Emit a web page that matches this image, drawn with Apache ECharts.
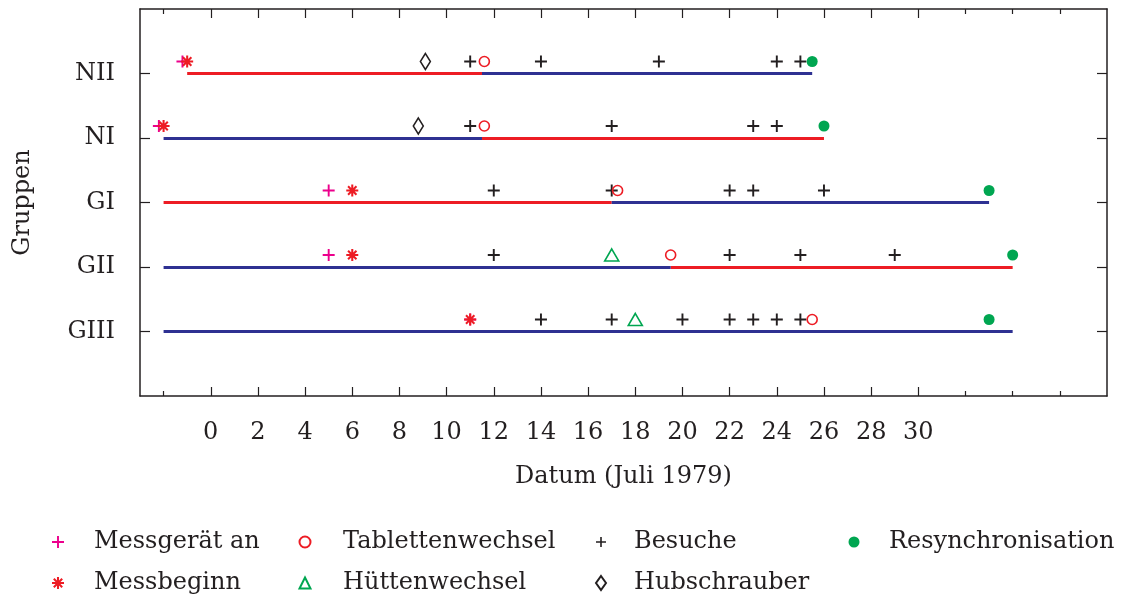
<!DOCTYPE html>
<html>
<head>
<meta charset="utf-8">
<script src="https://cdn.jsdelivr.net/npm/echarts@6/dist/echarts.min.js"></script>
<style>
html,body{margin:0;padding:0;background:#ffffff;}
#chart{width:1125px;height:595px;}
</style>
</head>
<body>
<div id="chart"></div>
<script>
// ---------- data ----------
const groups = ['GIII', 'GII', 'GI', 'NI', 'NII'];
const xMajorTicks = [0, 2, 4, 6, 8, 10, 12, 14, 16, 18, 20, 22, 24, 26, 28, 30];
const xMinorTicks = [-2, 32, 34, 36];
const xTickLabels = [0, 2, 4, 6, 8, 10, 12, 14, 16, 18, 20, 22, 24, 26, 28, 30];

// [group, start, end]
const redSegments = [['NII', -1, 11.5], ['NI', 11.5, 26], ['GI', -2, 17], ['GII', 19.5, 34]];
const blueSegments = [['NII', 11.5, 25.5], ['NI', -2, 11.5], ['GI', 17, 33], ['GII', -2, 19.5], ['GIII', -2, 34]];

// [group, day]
const messgeraetAn = [['NII', -1.2], ['NI', -2.2], ['GI', 5], ['GII', 5], ['GIII', 11]];
const messbeginn = [['NII', -1], ['NI', -2], ['GI', 6], ['GII', 6], ['GIII', 11]];
const tablettenwechsel = [['NII', 11.6], ['NI', 11.6], ['GI', 17.25], ['GII', 19.5], ['GIII', 25.5]];
const huettenwechsel = [['GII', 17], ['GIII', 18]];
const besuche = [
  ['NII', 11], ['NII', 14], ['NII', 19], ['NII', 24], ['NII', 25],
  ['NI', 11], ['NI', 17], ['NI', 23], ['NI', 24],
  ['GI', 12], ['GI', 17], ['GI', 22], ['GI', 23], ['GI', 26],
  ['GII', 12], ['GII', 22], ['GII', 25], ['GII', 29],
  ['GIII', 14], ['GIII', 17], ['GIII', 20], ['GIII', 22], ['GIII', 23], ['GIII', 24], ['GIII', 25]
];
const hubschrauber = [['NII', 9.1], ['NI', 8.8]];
const resynchronisation = [['NII', 25.5], ['NI', 26], ['GI', 33], ['GII', 34], ['GIII', 33]];

// ---------- styles ----------
const FONT = 'DejaVu Serif';
const INK = '#231f20';
const RED = '#ed1c24';
const BLUE = '#2e3192';
const PINK = '#ec008c';
const GREEN = '#00a651';
const PLUS = 'path://M4.2 0h1.6v10h-1.6zM0 4.2h10v1.6h-10z';
const STAR = 'path://M4.15 0h1.7v10h-1.7zM0 4.15h10v1.7h-10zM2.1 0.9L9.1 7.9L7.9 9.1L0.9 2.1zM7.9 0.9L9.1 2.1L2.1 9.1L0.9 7.9z';

const yOf = g => groups.indexOf(g) + 1;
const pts = arr => arr.map(d => [d[1], yOf(d[0])]);
const segs = arr => arr.map(s => ({ coords: [[s[1], yOf(s[0])], [s[2], yOf(s[0])]] }));

const chart = echarts.init(document.getElementById('chart'));

const xBase = {
  type: 'value', min: -3, max: 38,
  splitLine: { show: false },
  axisLine: { onZero: false, show: true, lineStyle: { color: INK, width: 1.5 } },
  axisLabel: { show: false }
};
const yBase = {
  type: 'value', min: 0, max: 6,
  splitLine: { show: false },
  axisLine: { onZero: false, show: true, lineStyle: { color: INK, width: 1.5 } },
  axisTick: { show: true, inside: true, length: 10, customValues: [1, 2, 3, 4, 5], lineStyle: { color: INK, width: 1.2 } },
  axisLabel: { show: false }
};

const scatterBase = {
  type: 'scatter', symbolOffset: [0, -12], z: 5, silent: true
};

const legendBase = {
  orient: 'vertical', padding: 0, itemGap: 17, top: 530, selectedMode: false,
  textStyle: { fontFamily: FONT, fontSize: 24, color: INK }
};

chart.setOption({
  animation: false,
  backgroundColor: '#ffffff',
  grid: { left: 140, right: 18, top: 9, bottom: 199, containLabel: false },
  xAxis: [
    Object.assign({}, xBase, {
      position: 'bottom',
      axisTick: { show: true, inside: true, length: 9, customValues: xMajorTicks, lineStyle: { color: INK, width: 1.2 } },
      axisLabel: { show: true, customValues: xTickLabels, margin: 25, fontFamily: FONT, fontSize: 24, color: INK },
      name: 'Datum (Juli 1979)', nameLocation: 'middle', nameGap: 69,
      nameTextStyle: { fontFamily: FONT, fontSize: 24, color: INK }
    }),
    Object.assign({}, xBase, {
      position: 'bottom', axisLine: { show: false, onZero: false },
      axisTick: { show: true, inside: true, length: 5, customValues: xMinorTicks, lineStyle: { color: INK, width: 1.2 } }
    }),
    Object.assign({}, xBase, {
      position: 'top',
      axisTick: { show: true, inside: true, length: 9, customValues: xMajorTicks, lineStyle: { color: INK, width: 1.2 } }
    }),
    Object.assign({}, xBase, {
      position: 'top', axisLine: { show: false, onZero: false },
      axisTick: { show: true, inside: true, length: 5, customValues: xMinorTicks, lineStyle: { color: INK, width: 1.2 } }
    })
  ],
  yAxis: [
    Object.assign({}, yBase, {
      position: 'left',
      axisLabel: {
        show: true, customValues: [1, 2, 3, 4, 5], margin: 25,
        formatter: v => groups[Math.round(v) - 1] || '',
        fontFamily: FONT, fontSize: 24, color: INK
      },
      name: 'Gruppen', nameLocation: 'middle', nameGap: 105,
      nameTextStyle: { fontFamily: FONT, fontSize: 24, color: INK }
    }),
    Object.assign({}, yBase, { position: 'right' })
  ],
  legend: [
    Object.assign({}, legendBase, {
      left: 52, itemWidth: 12, itemHeight: 12,
      data: ['Messgerät an', 'Messbeginn'],
      textStyle: Object.assign({}, legendBase.textStyle, { padding: [0, 0, 0, 25] })
    }),
    Object.assign({}, legendBase, {
      left: 298.5, itemWidth: 11, itemHeight: 11,
      data: ['Tablettenwechsel', 'Hüttenwechsel'],
      textStyle: Object.assign({}, legendBase.textStyle, { padding: [0, 0, 0, 27.5] })
    }),
    Object.assign({}, legendBase, {
      left: 595, itemWidth: 10, itemHeight: 14,
      data: ['Besuche', 'Hubschrauber'],
      textStyle: Object.assign({}, legendBase.textStyle, { padding: [0, 0, 0, 23] })
    }),
    Object.assign({}, legendBase, {
      left: 848.5, itemWidth: 11, itemHeight: 11,
      data: ['Resynchronisation'],
      textStyle: Object.assign({}, legendBase.textStyle, { padding: [0, 0, 0, 24.5] })
    })
  ],
  series: [
    {
      name: 'rot', type: 'lines', coordinateSystem: 'cartesian2d', polyline: false, silent: true, z: 2,
      lineStyle: { color: RED, width: 3, opacity: 1 }, data: segs(redSegments)
    },
    {
      name: 'blau', type: 'lines', coordinateSystem: 'cartesian2d', polyline: false, silent: true, z: 2,
      lineStyle: { color: BLUE, width: 3, opacity: 1 }, data: segs(blueSegments)
    },
    Object.assign({}, scatterBase, {
      name: 'Messgerät an', symbol: PLUS, symbolSize: 12, itemStyle: { color: PINK, opacity: 1 }, data: pts(messgeraetAn)
    }),
    Object.assign({}, scatterBase, {
      name: 'Messbeginn', symbol: STAR, symbolSize: 12, itemStyle: { color: RED, opacity: 1 }, data: pts(messbeginn)
    }),
    Object.assign({}, scatterBase, {
      name: 'Besuche', symbol: PLUS, symbolSize: 12, itemStyle: { color: INK, opacity: 1 }, data: pts(besuche)
    }),
    Object.assign({}, scatterBase, {
      name: 'Tablettenwechsel', symbol: 'circle', symbolSize: 10,
      itemStyle: { color: 'rgba(255,255,255,0)', borderColor: RED, borderWidth: 1.6, opacity: 1 }, data: pts(tablettenwechsel)
    }),
    Object.assign({}, scatterBase, {
      name: 'Hüttenwechsel', symbol: 'triangle', symbolSize: [14, 12],
      itemStyle: { color: 'rgba(255,255,255,0)', borderColor: GREEN, borderWidth: 1.6, opacity: 1 }, data: pts(huettenwechsel)
    }),
    Object.assign({}, scatterBase, {
      name: 'Hubschrauber', symbol: 'diamond', symbolSize: [10, 16],
      itemStyle: { color: 'rgba(255,255,255,0)', borderColor: INK, borderWidth: 1.6, opacity: 1 }, data: pts(hubschrauber)
    }),
    Object.assign({}, scatterBase, {
      name: 'Resynchronisation', symbol: 'circle', symbolSize: 11,
      itemStyle: { color: GREEN, opacity: 1 }, data: pts(resynchronisation)
    })
  ]
});
</script>
</body>
</html>
